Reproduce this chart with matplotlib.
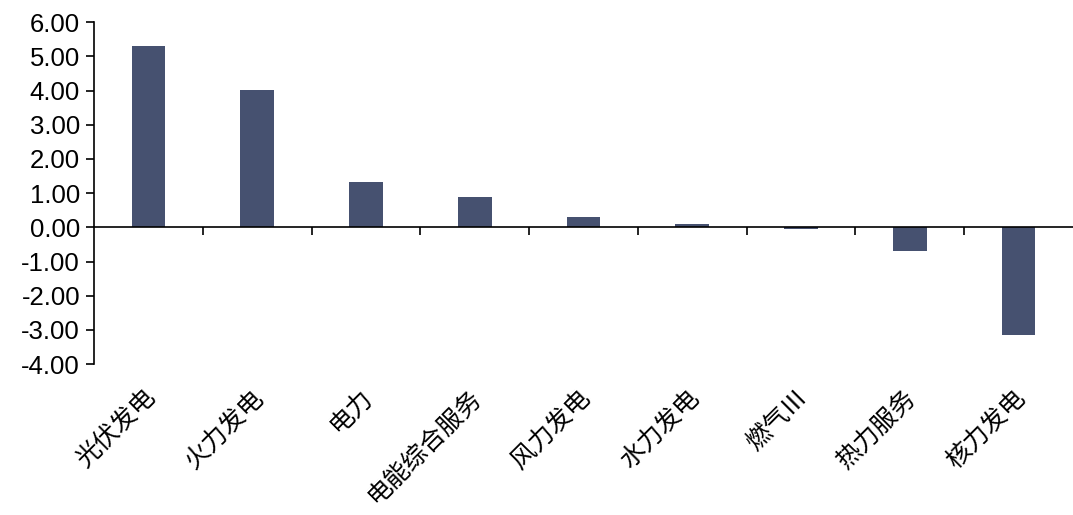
import matplotlib
matplotlib.use("Agg")
import matplotlib.pyplot as plt
import numpy as np

plt.rcParams["font.family"] = ["Liberation Sans", "Noto Sans CJK SC", "DejaVu Sans"]

categories = ["光伏发电", "火力发电", "电力", "电能综合服务", "风力发电",
              "水力发电", "燃气Ⅲ", "热力服务", "核力发电"]
values = [5.29, 4.03, 1.32, 0.88, 0.30, 0.10, -0.05, -0.69, -3.14]
yticks = [-4, -3, -2, -1, 0, 1, 2, 3, 4, 5, 6]

BAR = "#465170"

fig = plt.figure(figsize=(10.73, 5.15), dpi=100)
ax = fig.add_axes([0.0876, 0.293, 0.9124, 0.664])

x = np.arange(len(categories))
ax.bar(x, values, width=0.31, color=BAR, zorder=2)

ax.set_xlim(-0.5, len(categories) - 0.5)
ax.set_ylim(-4, 6)
ax.set_yticks(yticks)
ax.set_yticklabels([f"{v:.2f}" for v in yticks], fontsize=18.5)
ax.tick_params(axis="y", direction="out", length=6, width=1.2, pad=4)

# x axis sits at zero, ticks between categories
ax.spines["bottom"].set_position(("data", 0))
ax.spines["top"].set_visible(False)
ax.spines["right"].set_visible(False)
ax.spines["left"].set_linewidth(1.2)
ax.spines["bottom"].set_linewidth(1.2)
ax.spines["bottom"].set_zorder(3)
ax.set_xticks(x[:-1] + 0.5)
ax.set_xticklabels([])
ax.tick_params(axis="x", direction="out", length=6, width=1.2)

for i, lbl in enumerate(categories):
    ax.annotate(lbl, xy=(i, 0), xycoords=("data", "axes fraction"),
                xytext=(2, -21), textcoords="offset points",
                rotation=45, ha="right", va="center", rotation_mode="anchor",
                fontsize=18, family=["Noto Sans CJK SC", "DejaVu Sans"],
                annotation_clip=False)

fig.savefig("out.png", dpi=100)
